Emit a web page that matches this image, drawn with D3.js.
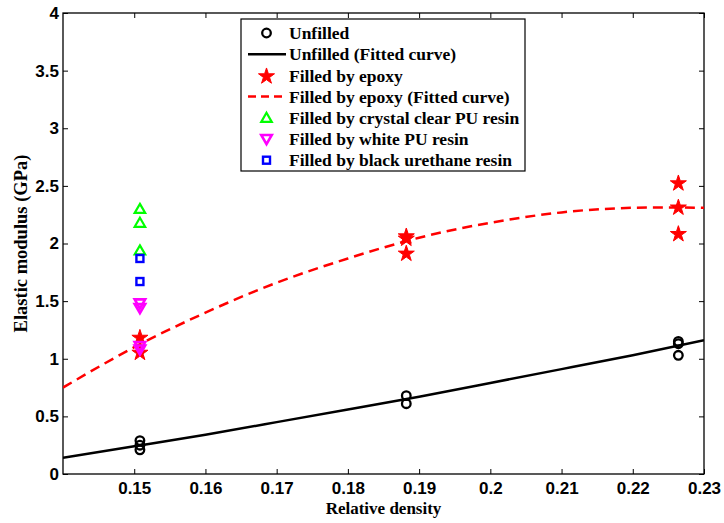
<!DOCTYPE html>
<html><head><meta charset="utf-8">
<script src="https://cdn.jsdelivr.net/npm/d3@7"></script>
<style>body{margin:0;background:#fff}svg{display:block}</style>
</head><body>
<svg id="c" width="724" height="523"></svg>
<script>
// ---- data ----
const xTicks = [0.15,0.16,0.17,0.18,0.19,0.2,0.21,0.22,0.23];
const yTicks = [0,0.5,1,1.5,2,2.5,3,3.5,4];
const unfilledX = [0.1508,0.1508,0.1508,0.1882,0.1882,0.2264,0.2264,0.2264];
const unfilledY = [0.21,0.25,0.29,0.61,0.68,1.03,1.13,1.15];
const epoxyX = [0.1508,0.1508,0.1882,0.1882,0.1882,0.2264,0.2264,0.2264];
const epoxyY = [1.06,1.19,1.92,2.05,2.07,2.09,2.32,2.53];
const crystalX = [0.1508,0.1508,0.1508];
const crystalY = [1.94,2.18,2.30];
const whiteX = [0.1508,0.1508,0.1508,0.1508];
const whiteY = [1.08,1.11,1.44,1.48];
const blackX = [0.1508,0.1508];
const blackY = [1.67,1.87];
const fitX = [0.14,0.15,0.16,0.17,0.18,0.19,0.20,0.21,0.22,0.23];
const fitUnfilled = [0.14,0.24,0.34,0.45,0.56,0.67,0.79,0.91,1.03,1.16];
const fitEpoxy = [0.75,1.10,1.40,1.66,1.87,2.05,2.18,2.27,2.31,2.31];
const legendLabels = ["Unfilled","Unfilled (Fitted curve)","Filled by epoxy","Filled by epoxy (Fitted curve)","Filled by crystal clear PU resin","Filled by white PU resin","Filled by black urethane resin"];

// ---- layout ----
const L=63,R=704,T=13,B=474;
const svg=d3.select("#c");
const x=d3.scaleLinear().domain([0.14,0.23]).range([L,R]);
const y=d3.scaleLinear().domain([0,4]).range([B,T]);
const sansBold="'Liberation Sans',Arial,sans-serif";
const serifBold="'Liberation Serif','Times New Roman',serif";

// axes
const gx=svg.append("g").attr("transform",`translate(0,${B})`)
  .call(d3.axisBottom(x).tickValues(xTicks).tickFormat(d=>String(+d.toFixed(2))).tickSizeInner(-5).tickSizeOuter(0).tickPadding(8));
const gxt=svg.append("g").attr("transform",`translate(0,${T})`)
  .call(d3.axisTop(x).tickValues(xTicks).tickFormat("").tickSizeInner(-5).tickSizeOuter(0));
const gy=svg.append("g").attr("transform",`translate(${L},0)`)
  .call(d3.axisLeft(y).tickValues(yTicks).tickFormat(d=>String(d)).tickSizeInner(-5).tickSizeOuter(0).tickPadding(4));
const gyr=svg.append("g").attr("transform",`translate(${R},0)`)
  .call(d3.axisRight(y).tickValues(yTicks).tickFormat("").tickSizeInner(-5).tickSizeOuter(0));
[gx,gxt,gy,gyr].forEach(g=>{
  g.select(".domain").remove();
  g.selectAll(".tick line").attr("stroke","#000").attr("stroke-width",1);
  g.selectAll("text").attr("fill","#000").style("font-family",sansBold).style("font-weight","bold").style("font-size","17px");
});
gx.selectAll("text").attr("dy","0.71em");
svg.append("rect").attr("x",L).attr("y",T).attr("width",R-L).attr("height",B-T)
  .attr("fill","none").attr("stroke","#000").attr("stroke-width",1.3);

// clip
svg.append("clipPath").attr("id","clip").append("rect").attr("x",L).attr("y",T).attr("width",R-L).attr("height",B-T);
const plot=svg.append("g").attr("clip-path","url(#clip)");

const line=(ys)=>d3.line().x((d,i)=>x(fitX[i])).y((d,i)=>y(ys[i])).curve(d3.curveNatural)(ys);
plot.append("path").attr("d",line(fitUnfilled)).attr("fill","none").attr("stroke","#000").attr("stroke-width",2.5);
plot.append("path").attr("d",line(fitEpoxy)).attr("fill","none").attr("stroke","#f00").attr("stroke-width",2.5).attr("stroke-dasharray","10,6");

// markers
const star=d3.symbol(d3.symbolStar,80)();
const tri=d3.symbol(d3.symbolTriangle,48)();
function drawCircle(g,cx,cy){g.append("circle").attr("cx",cx).attr("cy",cy).attr("r",4.3).attr("fill","none").attr("stroke","#000").attr("stroke-width",2.3);}
function drawStar(g,cx,cy){g.append("path").attr("d",star).attr("transform",`translate(${cx},${cy+1})`).attr("fill","#f00").attr("stroke","#f00").attr("stroke-width",1);}
function drawUp(g,cx,cy){g.append("path").attr("d",tri).attr("transform",`translate(${cx},${cy+1})`).attr("fill","none").attr("stroke","#0f0").attr("stroke-width",2.2);}
function drawDown(g,cx,cy){g.append("path").attr("d",tri).attr("transform",`translate(${cx},${cy-1}) rotate(180)`).attr("fill","none").attr("stroke","#f0f").attr("stroke-width",2.6);}
function drawSq(g,cx,cy){g.append("rect").attr("x",cx-3.5).attr("y",cy-3.5).attr("width",7).attr("height",7).attr("fill","none").attr("stroke","#00f").attr("stroke-width",2.4);}

unfilledX.forEach((d,i)=>drawCircle(plot,x(d),y(unfilledY[i])));
epoxyX.forEach((d,i)=>drawStar(plot,x(d),y(epoxyY[i])));
crystalX.forEach((d,i)=>drawUp(plot,x(d),y(crystalY[i])));
blackX.forEach((d,i)=>drawSq(plot,x(d),y(blackY[i])));
whiteX.forEach((d,i)=>drawDown(plot,x(d),y(whiteY[i])));

// legend
const lg=svg.append("g");
const lx=241,ly=19,lw=284,lh=152;
lg.append("rect").attr("x",lx).attr("y",ly).attr("width",lw).attr("height",lh).attr("fill","#fff").attr("stroke","#000").attr("stroke-width",1.2);
const rowY=i=>ly+14+i*21.2;
const mx=266.5;
legendLabels.forEach((t,i)=>{
  const cy=rowY(i);
  if(i===0) drawCircle(lg,mx,cy);
  if(i===1) lg.append("line").attr("x1",248).attr("x2",286).attr("y1",cy).attr("y2",cy).attr("stroke","#000").attr("stroke-width",2.5);
  if(i===2) drawStar(lg,mx,cy);
  if(i===3) lg.append("line").attr("x1",248).attr("x2",286).attr("y1",cy).attr("y2",cy).attr("stroke","#f00").attr("stroke-width",2.5).attr("stroke-dasharray","8,5");
  if(i===4) drawUp(lg,mx,cy);
  if(i===5) drawDown(lg,mx,cy);
  if(i===6) drawSq(lg,mx,cy);
  lg.append("text").attr("x",289).attr("y",cy).attr("dy","0.35em").text(t)
    .style("font-family",serifBold).style("font-weight","bold").style("font-size","17.5px").attr("fill","#000");
});

// axis titles
svg.append("text").attr("x",(L+R)/2).attr("y",514).attr("text-anchor","middle").text("Relative density")
  .style("font-family",serifBold).style("font-weight","bold").style("font-size","17px");
svg.append("text").attr("transform",`translate(27,${(T+B)/2}) rotate(-90)`).attr("text-anchor","middle").text("Elastic modulus (GPa)")
  .style("font-family",serifBold).style("font-weight","bold").style("font-size","18.5px");
</script>
</body></html>
